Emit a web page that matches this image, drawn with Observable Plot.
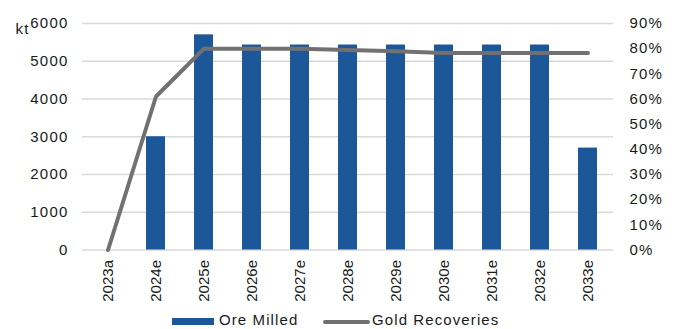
<!DOCTYPE html>
<html>
<head>
<meta charset="utf-8">
<script src="https://cdn.jsdelivr.net/npm/d3@7"></script>
<script src="https://cdn.jsdelivr.net/npm/@observablehq/plot@0.6"></script>
<style>
  html, body { margin: 0; padding: 0; background: #fff; }
  #wrap { position: relative; width: 676px; height: 329px; overflow: hidden; font-family: "Liberation Sans", Arial, sans-serif; }
  #legend { position: absolute; left: 0; top: 310px; width: 676px; height: 19px; font-size: 15px; color: #1a1a1a; letter-spacing: 1.1px; }
  #legend .sw-bar { position: absolute; left: 172px; top: 8px; width: 42px; height: 7px; background: #1c5899; }
  #legend .sw-line { position: absolute; left: 323px; top: 10px; width: 47px; height: 4px; border-radius: 2px; background: #717171; }
  #legend .lab { position: absolute; top: 1px; line-height: 17px; white-space: nowrap; }
</style>
</head>
<body>
<div id="wrap">
  <div id="chart"></div>
  <div id="legend">
    <div class="sw-bar"></div><div class="lab" style="left:219px">Ore Milled</div>
    <div class="sw-line"></div><div class="lab" style="left:372px">Gold Recoveries</div>
  </div>
</div>
<script>
// Ore milled (kt) and gold recovery (%) by year
const years = ["2023a", "2024e", "2025e", "2026e", "2027e", "2028e", "2029e", "2030e", "2031e", "2032e", "2033e"];
const oreMilled = [0, 3000, 5700, 5430, 5430, 5430, 5430, 5430, 5430, 5430, 2700];
const goldRecoveries = [0, 61, 80, 80, 80, 79.5, 79, 78.3, 78.3, 78.3, 78.3];

const leftTicks = [0, 1000, 2000, 3000, 4000, 5000, 6000];
const rightTicks = [0, 10, 20, 30, 40, 50, 60, 70, 80, 90];

// secondary (percent) axis shares the kt scale: 90% maps to 6000
const KT_MAX = 6000, PCT_MAX = 90;
const pctToKt = p => p * KT_MAX / PCT_MAX;

const rows = years.map((year, i) => ({ year, ore: oreMilled[i], rec: goldRecoveries[i] }));

const chart = Plot.plot({
  width: 676,
  height: 310,
  marginLeft: 82,
  marginRight: 63,
  marginTop: 23,
  marginBottom: 60.5,
  style: { fontFamily: "Liberation Sans, Arial, sans-serif", fontSize: "15px", color: "#1a1a1a", background: "#fff" },
  x: { domain: years, paddingInner: 0.6, paddingOuter: 0.3 },
  y: { domain: [0, KT_MAX] },
  marks: [
    Plot.gridY(leftTicks, { stroke: "#d9d9d9", strokeOpacity: 1, strokeWidth: 1.3 }),
    Plot.barY(rows, { x: "year", y: "ore", fill: "#1c5899" }),
    Plot.lineY(rows, { x: "year", y: d => pctToKt(d.rec), stroke: "#717171", strokeWidth: 4, strokeLinecap: "round", strokeLinejoin: "round" }),
    Plot.axisY(leftTicks, { anchor: "left", tickSize: 0, tickPadding: 14, tickFormat: d => String(d), label: null }),
    Plot.axisY(rightTicks.map(pctToKt), { anchor: "right", tickSize: 0, tickPadding: 16, tickFormat: v => Math.round(v * PCT_MAX / KT_MAX) + "%", label: null }),
    Plot.axisX({ tickRotate: -90, tickSize: 0, tickPadding: 10, label: null }),
    Plot.text(["kt"], { text: d => d, frameAnchor: "top-left", dx: -67, dy: 10, textAnchor: "start", lineAnchor: "bottom" })
  ]
});

document.getElementById("chart").appendChild(chart);

// widen horizontal labels slightly
d3.select(chart).selectAll('[aria-label="y-axis tick label"] text').attr("letter-spacing", "1.2");
d3.select(chart).selectAll('[aria-label="text"] text').attr("letter-spacing", "1.2");
</script>
</body>
</html>
